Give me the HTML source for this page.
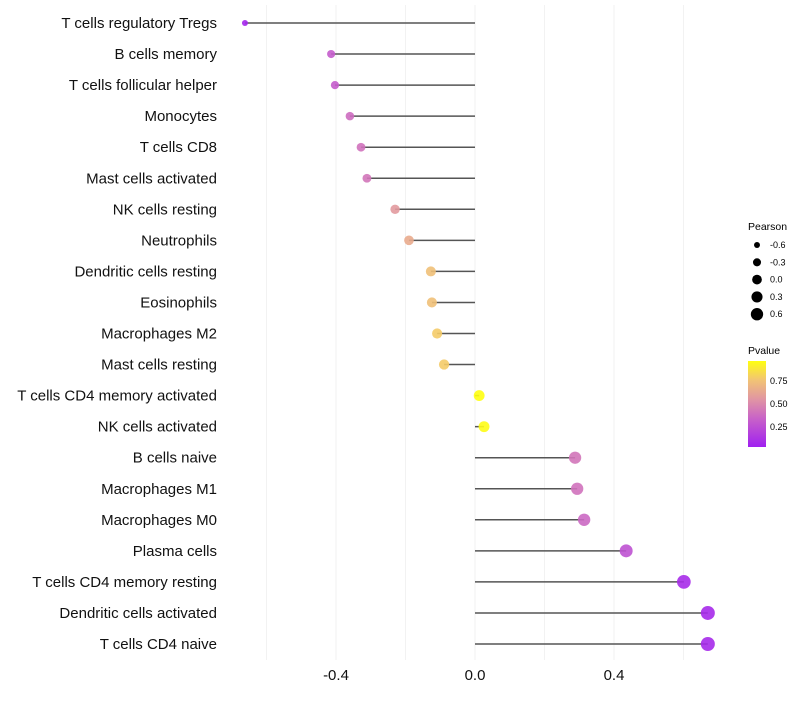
<!DOCTYPE html>
<html><head><meta charset="utf-8"><style>
body{margin:0;background:#fff;font-family:"Liberation Sans",sans-serif}
svg text{font-family:"Liberation Sans",sans-serif}
</style></head><body>
<svg id="chart" width="800" height="700" xmlns="http://www.w3.org/2000/svg">
<defs><linearGradient id="pg" x1="0" y1="1" x2="0" y2="0">
<stop offset="0" stop-color="#a020f0"/><stop offset="0.33" stop-color="#c862c8"/><stop offset="0.55" stop-color="#e094a4"/><stop offset="0.78" stop-color="#f2c474"/><stop offset="1" stop-color="#ffff10"/>
</linearGradient></defs>
<g id="grid"></g>
<g id="marks"></g>
<g id="labels"></g>
<g id="xticks"></g>
<g>
<text x="748" y="230" font-size="10.5" fill="#000">Pearson</text>
<g id="sizeLegend"></g>
</g>
<g>
<text x="748" y="354" font-size="10.5" fill="#000">Pvalue</text>
<rect x="748" y="361" width="18" height="86" fill="url(#pg)"/>
<text x="770" y="384" font-size="9">0.75</text>
<text x="770" y="407" font-size="9">0.50</text>
<text x="770" y="430" font-size="9">0.25</text>
</g>
</svg>
<script>
const categories=["T cells regulatory  Tregs ","B cells memory","T cells follicular helper","Monocytes","T cells CD8","Mast cells activated","NK cells resting","Neutrophils","Dendritic cells resting","Eosinophils","Macrophages M2","Mast cells resting","T cells CD4 memory activated","NK cells activated","B cells naive","Macrophages M1","Macrophages M0","Plasma cells","T cells CD4 memory resting","Dendritic cells activated","T cells CD4 naive"];
const pearson=[-0.662,-0.414,-0.403,-0.36,-0.328,-0.311,-0.23,-0.19,-0.127,-0.124,-0.109,-0.089,0.012,0.026,0.288,0.294,0.314,0.435,0.601,0.67,0.67];
const pvalue=[0.03,0.3,0.3,0.38,0.4,0.42,0.58,0.66,0.76,0.76,0.8,0.8,0.95,0.94,0.42,0.4,0.36,0.25,0.06,0.05,0.05];
const xTicks=[-0.4,0,0.4];
const xTickLabels=["-0.4","0.0","0.4"];
const gridVals=[-0.6,-0.4,-0.2,0,0.2,0.4,0.6];
const sizeLegendVals=[-0.6,-0.3,0,0.3,0.6];
const sizeLegendLabels=["-0.6","-0.3","0.0","0.3","0.6"];

const NS="http://www.w3.org/2000/svg";
const X=v=>475+v*347.5;
const Y=i=>23+i*31.05;
const R=v=>Math.sqrt(Math.max(2.5,29+30*v));
function lerp(a,b,t){return a+(b-a)*t}
const stops=[[0,[160,32,240]],[0.33,[200,98,200]],[0.55,[224,148,164]],[0.78,[242,196,116]],[0.95,[255,255,16]]];
function col(p){p=Math.max(0,Math.min(0.95,p));for(let k=1;k<stops.length;k++){if(p<=stops[k][0]){const t=(p-stops[k-1][0])/(stops[k][0]-stops[k-1][0]);const a=stops[k-1][1],b=stops[k][1];return `rgb(${Math.round(lerp(a[0],b[0],t))},${Math.round(lerp(a[1],b[1],t))},${Math.round(lerp(a[2],b[2],t))})`;}}return "rgb(255,255,16)";}
function mk(t,attrs,parent){const e=document.createElementNS(NS,t);for(const k in attrs)e.setAttribute(k,attrs[k]);parent.appendChild(e);return e;}
const grid=document.getElementById('grid'),marks=document.getElementById('marks'),labels=document.getElementById('labels'),xt=document.getElementById('xticks'),sl=document.getElementById('sizeLegend');
gridVals.forEach(v=>{const l=mk('line',{x1:X(v),x2:X(v),y1:5,y2:660,stroke:'#f2f2f2','stroke-width':1},grid);

});
categories.forEach((c,i)=>{
const ln=mk('line',{x1:X(pearson[i]),x2:X(0),y1:Y(i),y2:Y(i),stroke:'#555','stroke-width':1.5},marks);


const dt=mk('circle',{cx:X(pearson[i]),cy:Y(i),r:R(pearson[i]),fill:col(pvalue[i]),'fill-opacity':0.9},marks);


const tx=mk('text',{x:217,y:Y(i)+5,'text-anchor':'end','font-size':15,fill:'#111','xml:space':'preserve'},labels);tx.textContent=c;


});
xTicks.forEach((v,i)=>{const t=mk('text',{x:X(v),y:680,'text-anchor':'middle','font-size':15,fill:'#111'},xt);t.textContent=xTickLabels[i];

});
sizeLegendVals.forEach((v,i)=>{const y=245+i*17.3;const c=mk('circle',{cx:757,cy:y,r:R(v)*0.9,fill:'#000'},sl);


const t=mk('text',{x:770,y:y+3,'font-size':9},sl);t.textContent=sizeLegendLabels[i];

});
</script>
</body></html>
